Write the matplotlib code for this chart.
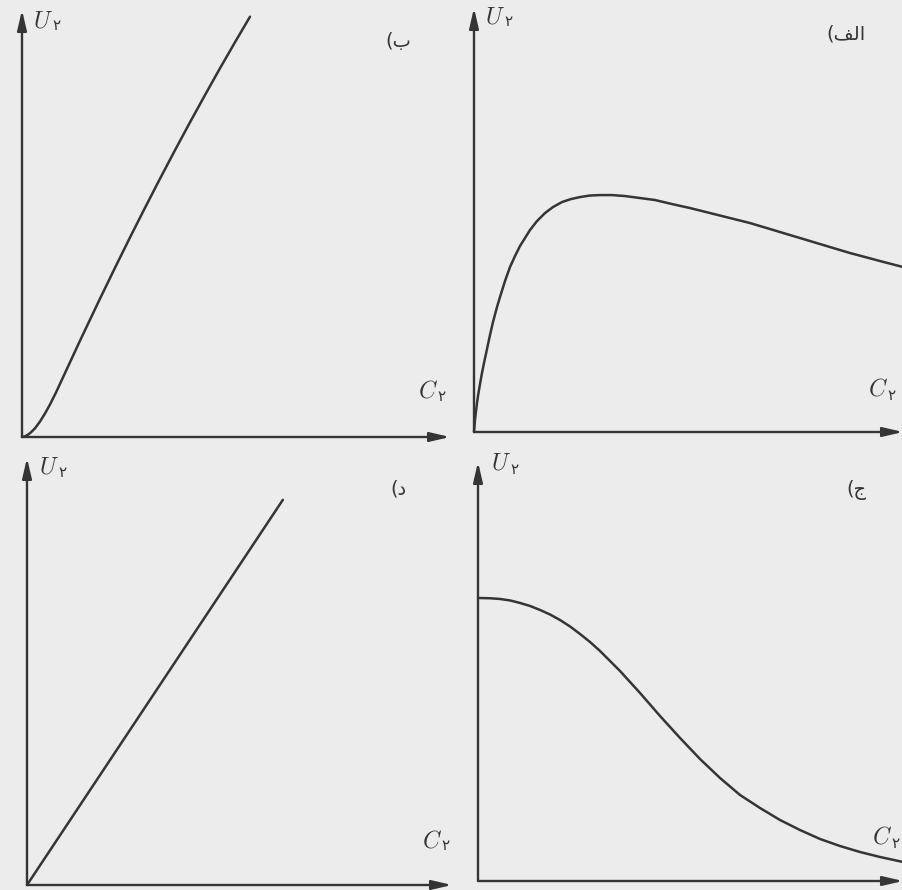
import matplotlib
matplotlib.use("Agg")
import matplotlib.pyplot as plt

plt.rcParams["mathtext.fontset"] = "cm"

W, H = 903, 890
INK = "#353535"
BG = "#ececec"

# curve samples, arbitrary units (0-100 along each axis)
b_x = [0, 0.70, 1.40, 2.10, 3.04, 4.21, 5.37, 6.54, 7.94, 9.35, 13.55, 18.22, 21.73,
       25.23, 28.74, 32.24, 35.75, 39.25, 42.76, 46.26, 49.77, 53.27]
b_y = [0, 0.16, 0.54, 1.10, 2.04, 3.63, 5.50, 7.61, 10.42, 13.47, 22.55, 32.39, 39.63,
       46.72, 53.68, 60.49, 67.17, 73.70, 80.09, 86.35, 92.46, 98.43]

alef_x = [0, 0.23, 0.47, 0.70, 0.93, 1.40, 1.86, 2.33, 3.03, 3.73, 4.43, 5.36, 6.06,
          7.23, 8.39, 9.56, 10.72, 11.89, 13.05, 14.69, 16.55, 18.42, 20.51, 22.61,
          24.71, 27.04, 29.37, 32.17, 35.20, 38.70, 42.20, 46.16, 50.35, 55.02, 59.68,
          64.34, 69.00, 73.67, 78.33, 82.99, 87.65, 91.15, 94.65, 100]
alef_y = [0, 2.83, 4.95, 6.84, 8.49, 11.32, 13.91, 16.27, 19.57, 22.87, 25.94, 29.48,
          31.83, 35.61, 38.91, 41.50, 43.86, 45.75, 47.63, 49.75, 51.64, 53.06, 54.23,
          54.94, 55.41, 55.77, 55.88, 55.88, 55.65, 55.18, 54.71, 53.76, 52.82, 51.64,
          50.46, 49.28, 47.87, 46.45, 45.04, 43.62, 42.21, 41.27, 40.32, 38.91]

jim_x = [0, 2.82, 5.18, 7.53, 9.88, 12.24, 14.59, 16.94, 19.29, 21.65, 24.00, 26.35,
         28.71, 33.41, 38.12, 42.82, 47.53, 52.24, 56.94, 61.65, 66.35, 71.06, 75.76,
         80.47, 85.18, 89.88, 94.59, 100]
jim_y = [67.55, 67.48, 67.31, 66.96, 66.36, 65.64, 64.69, 63.61, 62.30, 60.75, 58.96,
         57.05, 54.90, 50.13, 44.88, 39.39, 34.14, 29.12, 24.59, 20.53, 17.43, 14.56,
         12.17, 10.03, 8.35, 6.92, 5.73, 4.54]

dal_x = [0, 60.2]
dal_y = [0, 90.2]

# panel tags, Arabic presentation forms in visual order
tags = ["(\uFE8F", "(\uFED2\uFEDF\uFE8D", "(\uFEA9", "(\uFE9D"]

# panel frames in pixels: origin x, origin y, x-axis length, y-axis length
frames = [(22, 437, 428, 427), (474, 432, 429, 424), (27, 885, 425, 427), (478, 881, 425, 419)]
curves = [(b_x, b_y), (alef_x, alef_y), (dal_x, dal_y), (jim_x, jim_y)]
tag_pos = [(398, 42), (846, 34), (398, 489), (856, 490)]
u_pos = [(43, 20), (495, 16), (49, 466), (501, 463)]
c_pos = [(428, 391), (878, 389), (432, 840), (882, 837)]

fig = plt.figure(figsize=(W / 100, H / 100), dpi=100, facecolor=BG)


def fx(px):
    return px / W


def fy(py):
    return 1 - py / H


def sym_label(x, y, letter):
    fig.text(fx(x), fy(y), "$" + letter + "$", fontsize=17, color=INK,
             ha="center", va="center")
    fig.text(fx(x + 13), fy(y + 6), "\u06F2", fontsize=11, color=INK,
             ha="center", va="center", family="DejaVu Sans")


for (ox, oy, w, h), (cx, cy), tag, tp, up, cp in zip(frames, curves, tags, tag_pos, u_pos, c_pos):
    ax = fig.add_axes([fx(ox), fy(oy), w / W, h / H])
    ax.set_xlim(0, 100)
    ax.set_ylim(0, 100)
    ax.axis("off")
    arrow = dict(arrowstyle="-|>,head_length=1.2,head_width=0.28", color=INK, lw=1.7,
                 shrinkA=0, shrinkB=0)
    ax.annotate("", xy=(1.0, 0), xytext=(0, 0), xycoords="axes fraction",
                arrowprops=arrow, annotation_clip=False)
    ax.annotate("", xy=(0, 1.0), xytext=(0, 0), xycoords="axes fraction",
                arrowprops=arrow, annotation_clip=False)
    ax.plot(cx, cy, color=INK, lw=1.8, clip_on=False, solid_capstyle="round",
            solid_joinstyle="round")

    fig.text(fx(tp[0]), fy(tp[1]), tag, fontsize=14, color=INK,
             ha="center", va="center", family="DejaVu Sans")
    sym_label(up[0], up[1], "U")
    sym_label(cp[0], cp[1], "C")

fig.savefig("out.png", dpi=100, facecolor=BG)
